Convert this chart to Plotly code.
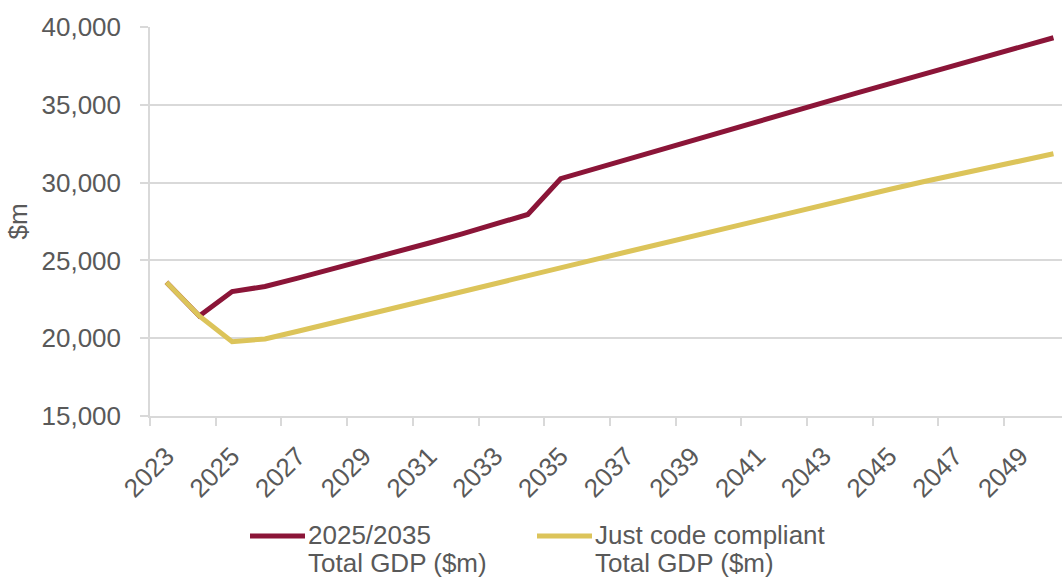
import plotly.graph_objects as go

# Years on the category axis
years = list(range(2023, 2051))

# Total GDP ($m) under the 2025/2035 pathway
gdp_2025_2035 = [
    23600, 21430, 23000, 23320, 23860, 24410, 24970, 25540, 26120, 26710,
    27320, 27950, 30250, 30870, 31490, 32110, 32720, 33330, 33940, 34550,
    35150, 35750, 36350, 36950, 37540, 38130, 38720, 39310,
]

# Total GDP ($m) when buildings are just code compliant
gdp_code_compliant = [
    23600, 21430, 19780, 19950, 20450, 20950, 21460, 21970, 22480, 22990,
    23500, 24010, 24520, 25030, 25540, 26050, 26560, 27070, 27580, 28090,
    28580, 29070, 29560, 30040, 30500, 30960, 31410, 31850,
]

# Legend labels, one list of text lines per series
series_labels = [["2025/2035", "Total GDP ($m)"], ["Just code compliant", "Total GDP ($m)"]]
series_colors = ["#8B1538", "#DCC45A"]

label_years = years[::2]
boundary_ticks = [y - 0.5 for y in years[::2]]

FONT = "Liberation Sans, Arial, sans-serif"
TEXT = "#595959"
GRID = "#D9D9D9"
FS = 26

# plot area in pixels, used to place the legend under the axis
PLOT_L, PLOT_R, PLOT_T, PLOT_B = 150, 1062, 27, 416


def px_x(px):
    return (px - PLOT_L) / (PLOT_R - PLOT_L)


def px_y(py):
    return (PLOT_B - py) / (PLOT_B - PLOT_T)


fig = go.Figure()
for lines, vals, col in zip(series_labels, [gdp_2025_2035, gdp_code_compliant], series_colors):
    fig.add_trace(go.Scatter(
        x=years, y=vals, name=" ".join(lines), mode="lines",
        line=dict(color=col, width=5), showlegend=False,
    ))

# Legend drawn under the chart: a short line sample followed by two text lines
legend_starts = [250, 537]
for start, lines, col in zip(legend_starts, series_labels, series_colors):
    fig.add_shape(type="line", xref="paper", yref="paper",
                  x0=px_x(start), x1=px_x(start + 55), y0=px_y(536), y1=px_y(536),
                  line=dict(color=col, width=5))
    for i, txt in enumerate(lines):
        fig.add_annotation(text=txt, xref="paper", yref="paper",
                           x=px_x(start + 56), y=px_y(535 + 28 * i),
                           xanchor="left", yanchor="middle", showarrow=False,
                           font=dict(family=FONT, size=FS, color=TEXT))

fig.update_layout(
    width=1062, height=578,
    margin=dict(l=PLOT_L, r=1062 - PLOT_R, t=PLOT_T, b=578 - PLOT_B),
    paper_bgcolor="white", plot_bgcolor="white",
    font=dict(family=FONT, size=FS, color=TEXT),
    showlegend=False,
    xaxis=dict(
        range=[2022.5, 2050.26], automargin=False,
        tickmode="array", tickvals=label_years, ticktext=[str(y) for y in label_years],
        tickangle=-45, ticks="", showgrid=False,
        ticklabelshift=0, ticklabelstandoff=13,
        showline=True, linecolor=GRID, linewidth=1.5,
        tickfont=dict(family=FONT, size=FS, color=TEXT),
        minor=dict(tickmode="array", tickvals=boundary_ticks, ticks="outside",
                   ticklen=8, tickcolor=GRID, tickwidth=1.5, showgrid=False),
        zeroline=False,
    ),
    yaxis=dict(
        range=[15000, 40000], automargin=False,
        tickmode="linear", tick0=15000, dtick=5000,
        tickformat=",", showgrid=True, gridcolor=GRID, gridwidth=1.5,
        ticks="outside", ticklen=8, tickcolor=GRID, tickwidth=1.5,
        ticklabelstandoff=14,
        showline=True, linecolor=GRID, linewidth=1.5, zeroline=False,
        tickfont=dict(family=FONT, size=FS, color=TEXT),
        title=dict(text="$m", standoff=6, font=dict(family=FONT, size=FS, color=TEXT)),
    ),
)

fig.write_html("out.html")
